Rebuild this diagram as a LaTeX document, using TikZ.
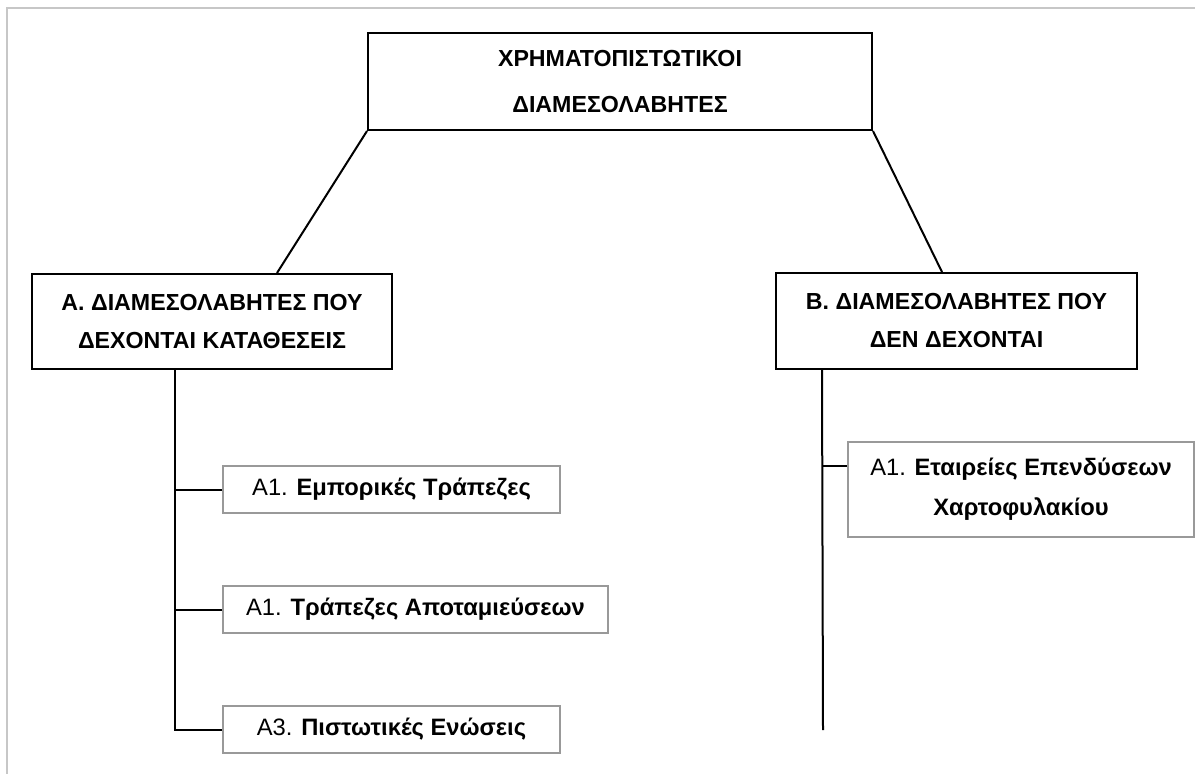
\documentclass[tikz,border=0pt]{standalone}
\usepackage{fontspec}
\setmainfont{Liberation Sans}
\begin{document}
\begin{tikzpicture}[x=0.75pt,y=-0.75pt,
        mainbox/.style={draw=black,line width=1.5pt,inner sep=0pt,align=center,
            font=\fontsize{17.4}{28.5}\selectfont\bfseries},
        subbox/.style={draw=black!40,line width=1.5pt,inner sep=0pt,align=center,
            font=\fontsize{17.8}{30}\selectfont},
        conn/.style={line width=1.5pt}]
        \useasboundingbox (0,0) rectangle (1195,774);
        % page frame
        \draw[black!22,line width=1.5pt] (7,774) -- (7,8) -- (1195,8);
        % top level
        \node[mainbox,minimum width=378pt,minimum height=72.75pt,
            font=\fontsize{17.4}{34.5}\selectfont\bfseries] (fin) at (620,81.5)
            {ΧΡΗΜΑΤΟΠΙΣΤΩΤΙΚΟΙ\\ΔΙΑΜΕΣΟΛΑΒΗΤΕΣ};
        \node[mainbox,minimum width=270pt,minimum height=71.25pt] (depA) at (212,321.5)
            {Α. ΔΙΑΜΕΣΟΛΑΒΗΤΕΣ ΠΟΥ\\ΔΕΧΟΝΤΑΙ ΚΑΤΑΘΕΣΕΙΣ};
        \node[mainbox,minimum width=270.75pt,minimum height=72pt] (nodepB) at (956.5,321)
            {Β. ΔΙΑΜΕΣΟΛΑΒΗΤΕΣ ΠΟΥ\\ΔΕΝ ΔΕΧΟΝΤΑΙ};
        % categories
        \node[subbox,minimum width=252.75pt,minimum height=35.25pt] (comm) at (391.5,489.5)
            {Α1. \textbf{Εμπορικές Τράπεζες}};
        \node[subbox,minimum width=288.75pt,minimum height=35.25pt] (sav) at (415.5,609.5)
            {Α1. \textbf{Τράπεζες Αποταμιεύσεων}};
        \node[subbox,minimum width=252.75pt,minimum height=35.25pt] (cred) at (391.5,729.5)
            {Α3. \textbf{Πιστωτικές Ενώσεις}};
        \node[subbox,minimum width=259.5pt,minimum height=71.25pt] (port) at (1021,489.5)
            {Α1. \textbf{Εταιρείες Επενδύσεων}\\\textbf{Χαρτοφυλακίου}};
        % connectors
        \draw[conn] (fin.south west) -- ([xshift=184.5pt]depA.north west);
        \draw[conn] (fin.south east) -- ([xshift=125.25pt]nodepB.north west);
        \coordinate (trunkA) at ([xshift=108pt]depA.south west);
        \draw[conn] (trunkA) |- (cred.west);
        \draw[conn] (comm.west) -- (comm.west -| trunkA);
        \draw[conn] (sav.west) -- (sav.west -| trunkA);
        \coordinate (trunkB) at ([xshift=35.25pt]nodepB.south west);
        \coordinate (endB) at (823,730);
        \coordinate (portin) at ([yshift=-18.75pt]port.north west);
        \draw[conn] (trunkB) -- (endB);
        \draw[conn] (portin) -- (portin -| trunkB);
    \end{tikzpicture}
\end{document}
